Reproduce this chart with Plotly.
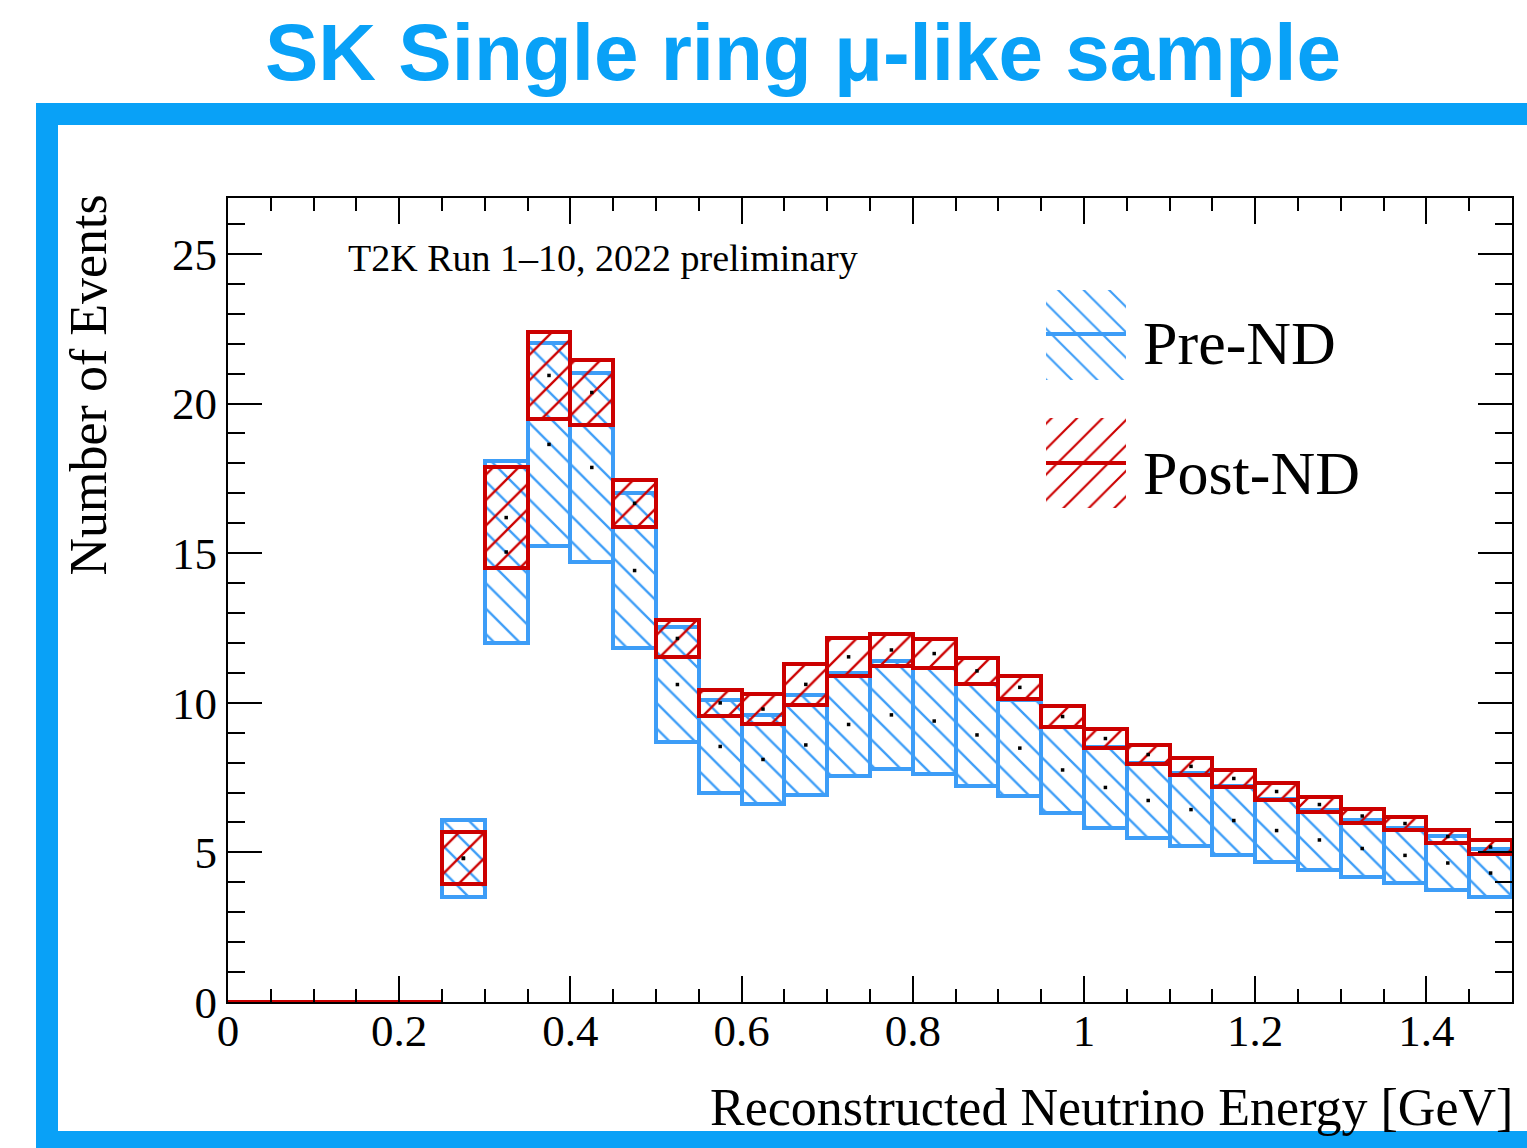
import plotly.graph_objects as go

# ---------------- data ----------------
bin_lo = [0.00, 0.05, 0.10, 0.15, 0.20,
          0.25, 0.30, 0.35, 0.40, 0.45, 0.50, 0.55, 0.60, 0.65, 0.70,
          0.75, 0.80, 0.85, 0.90, 0.95, 1.00, 1.05, 1.10, 1.15, 1.20,
          1.25, 1.30, 1.35, 1.40, 1.45]
bin_width = 0.05

pre_low = [0, 0, 0, 0, 0,
           3.51, 12.00, 15.24, 14.71, 11.83, 8.69, 6.99, 6.62, 6.92, 7.55,
           7.79, 7.62, 7.22, 6.88, 6.32, 5.82, 5.48, 5.21, 4.91, 4.68,
           4.41, 4.18, 3.98, 3.74, 3.51]
pre_high = [0, 0, 0, 0, 0,
            6.08, 18.08, 22.03, 21.02, 17.01, 12.53, 10.09, 9.59, 10.26, 11.00,
            11.40, 11.16, 10.63, 10.09, 9.19, 8.52, 7.99, 7.65, 7.22, 6.78,
            6.42, 6.08, 5.82, 5.55, 5.11]
post_low = [0, 0, 0, 0, 0,
            3.94, 14.50, 19.49, 19.28, 15.88, 11.53, 9.56, 9.29, 9.93, 10.90,
            11.23, 11.16, 10.63, 10.13, 9.19, 8.49, 7.95, 7.59, 7.19, 6.75,
            6.35, 5.98, 5.75, 5.31, 4.95]
post_high = [0, 0, 0, 0, 0,
             5.68, 17.88, 22.39, 21.46, 17.45, 12.77, 10.43, 10.29, 11.30, 12.17,
             12.30, 12.13, 11.50, 10.90, 9.89, 9.12, 8.59, 8.16, 7.75, 7.32,
             6.85, 6.45, 6.18, 5.75, 5.41]

x_tick_vals = [0, 0.2, 0.4, 0.6, 0.8, 1.0, 1.2, 1.4]
x_tick_text = ["0", "0.2", "0.4", "0.6", "0.8", "1", "1.2", "1.4"]
y_tick_vals = [0, 5, 10, 15, 20, 25]
y_tick_text = ["0", "5", "10", "15", "20", "25"]

series_names = ["Pre-ND", "Post-ND"]

# ---------------- style ----------------
W, H = 1527, 1148
PL, PR, PT, PB = 228, 1512, 198, 1002
BLUE = "#3d9df7"
RED = "#cc0000"
FRAME = "#09a1f7"
SERIF = "Liberation Serif"

def px_x(px):
    return (px - PL) / (PR - PL)

def px_y(py):
    return (PB - py) / (PB - PT)

centers = [b + bin_width / 2 for b in bin_lo]

fig = go.Figure()

def band_trace(lo, hi, color, shape, name):
    idx = [i for i in range(len(lo)) if hi[i] > lo[i]]
    return go.Bar(
        x=[centers[i] for i in idx],
        base=[lo[i] for i in idx],
        y=[hi[i] - lo[i] for i in idx],
        width=bin_width,
        name=name,
        marker=dict(
            color=color,
            line=dict(color=color, width=4),
            pattern=dict(shape=shape, fillmode="replace", fgcolor=color,
                         bgcolor="rgba(0,0,0,0)", size=18, solidity=0.13),
        ),
        showlegend=False,
        hoverinfo="skip",
    )

fig.add_trace(band_trace(pre_low, pre_high, BLUE, "\\", series_names[0]))
fig.add_trace(band_trace(post_low, post_high, RED, "/", series_names[1]))

# zero-content bins drawn as line at 0
zero_idx = [i for i in range(len(bin_lo)) if post_high[i] == post_low[i] == 0]
zx, zy = [], []
for i in zero_idx:
    zx += [bin_lo[i], bin_lo[i] + bin_width, None]
    zy += [post_low[i], post_low[i], None]
fig.add_trace(go.Scatter(x=zx, y=zy, mode="lines",
                         line=dict(color=RED, width=4), showlegend=False,
                         hoverinfo="skip"))

# central-value dots
nz = [i for i in range(len(bin_lo)) if pre_high[i] > 0]
fig.add_trace(go.Scatter(
    x=[centers[i] for i in nz] * 2,
    y=[(pre_low[i] + pre_high[i]) / 2 for i in nz] + [(post_low[i] + post_high[i]) / 2 for i in nz],
    mode="markers", marker=dict(color="black", size=3.5, symbol="square"),
    showlegend=False, hoverinfo="skip"))

# ---------------- custom legend (pixel overlay axes) ----------------
leg_boxes = [(1046, 1126, 290, 380, BLUE, "\\", 334, 343, series_names[0]),
             (1046, 1126, 418, 508, RED, "/", 463, 473, series_names[1])]
for (x0, x1, y0, y1, col, shp, ly, ty, txt) in leg_boxes:
    fig.add_trace(go.Scatter(
        x=[x0, x1, x1, x0, x0], y=[y0, y0, y1, y1, y0],
        xaxis="x2", yaxis="y2", mode="lines", line=dict(width=0),
        fill="toself", fillcolor="rgba(0,0,0,0)",
        fillpattern=dict(shape=shp, fgcolor=col, bgcolor="rgba(0,0,0,0)",
                         fillmode="replace", size=18, solidity=0.12),
        showlegend=False, hoverinfo="skip"))
    fig.add_trace(go.Scatter(
        x=[x0, x1], y=[ly, ly], xaxis="x2", yaxis="y2", mode="lines",
        line=dict(color=col, width=4), showlegend=False, hoverinfo="skip"))
    fig.add_annotation(x=1141, y=ty, xref="x2", yref="y2", text=txt,
                       showarrow=False, xanchor="left", yanchor="middle",
                       font=dict(family=SERIF, size=62, color="black"))

annotations = [
    dict(x=px_x(803), y=px_y(52), xref="paper", yref="paper",
         text="<b>SK Single ring μ-like sample</b>", showarrow=False,
         xanchor="center", yanchor="middle",
         font=dict(family="Liberation Sans", size=80, color=FRAME)),
    dict(x=px_x(346), y=px_y(258), xref="paper", yref="paper",
         text="T2K Run 1–10, 2022 preliminary", showarrow=False,
         xanchor="left", yanchor="middle",
         font=dict(family=SERIF, size=38, color="black")),
    dict(x=px_x(88), y=px_y(193), xref="paper", yref="paper",
         text="Number of Events", showarrow=False, textangle=-90,
         xanchor="center", yanchor="top",
         font=dict(family=SERIF, size=52, color="black")),
    dict(x=px_x(1515), y=px_y(1107), xref="paper", yref="paper",
         text="Reconstructed Neutrino Energy [GeV]", showarrow=False,
         xanchor="right", yanchor="middle",
         font=dict(family=SERIF, size=52, color="black")),
]
for a in annotations:
    fig.add_annotation(**a)

# hand-drawn style frame
fig.add_shape(type="rect", xref="paper", yref="paper",
              x0=px_x(47), x1=px_x(1545), y0=px_y(1142), y1=px_y(114),
              line=dict(color=FRAME, width=22), layer="below")

axis_common = dict(showline=True, linecolor="black", linewidth=2,
                   mirror="allticks", ticks="inside", tickcolor="black",
                   tickwidth=2, showgrid=False, zeroline=False,
                   tickfont=dict(family=SERIF, size=45, color="black"))

fig.update_layout(
    width=W, height=H,
    margin=dict(l=PL, r=W - PR, t=PT, b=H - PB),
    paper_bgcolor="white", plot_bgcolor="white",
    barmode="overlay", bargap=0, showlegend=False,
    xaxis=dict(range=[0, 1.5], tickvals=x_tick_vals, ticktext=x_tick_text,
               ticklen=26, ticklabelstandoff=-12,
               minor=dict(dtick=0.05, tick0=0, ticks="inside",
                          ticklen=13, tickwidth=2, tickcolor="black"),
               **axis_common),
    yaxis=dict(range=[0, 26.87], tickvals=y_tick_vals, ticktext=y_tick_text,
               ticklen=34,
               minor=dict(dtick=1, tick0=0, ticks="inside",
                          ticklen=17, tickwidth=2, tickcolor="black"),
               **axis_common),
    xaxis2=dict(overlaying="x", range=[PL, PR], visible=False, domain=[0, 1]),
    yaxis2=dict(overlaying="y", range=[PB, PT], visible=False, domain=[0, 1]),
)

fig.write_html("out.html")
